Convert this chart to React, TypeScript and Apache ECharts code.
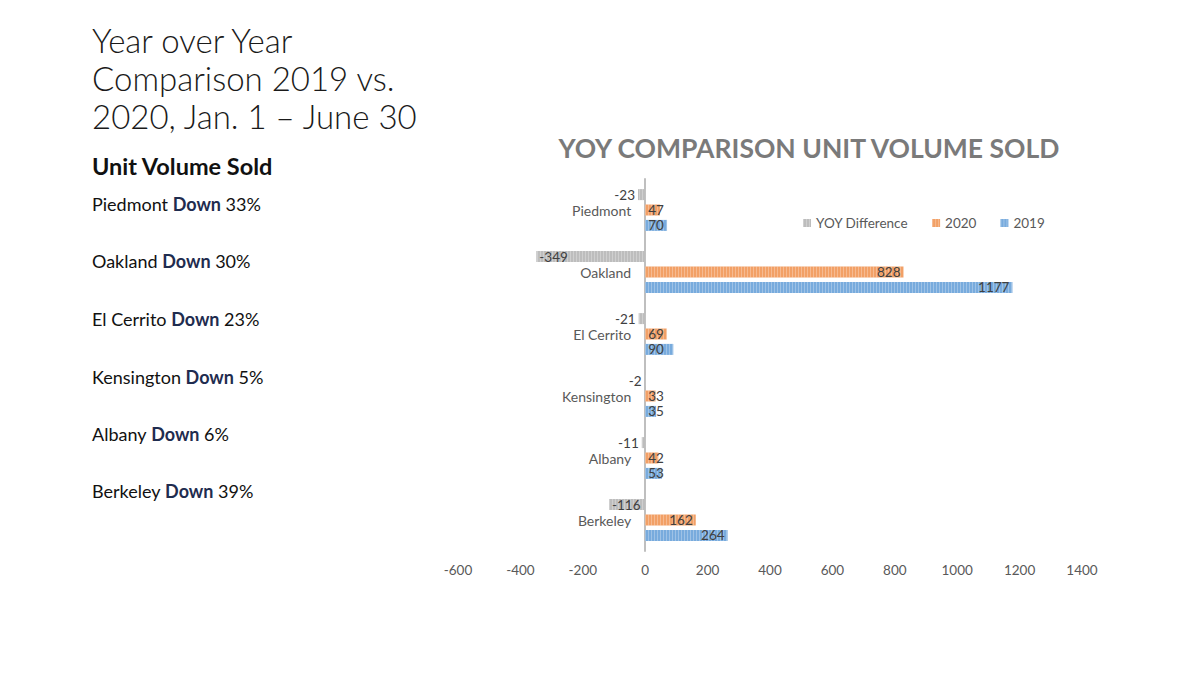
import React, { useEffect, useRef } from "react";
import * as echarts from "echarts";

const categories = ["Piedmont", "Oakland", "El Cerrito", "Kensington", "Albany", "Berkeley"];
const yoyDiff = [-23, -349, -21, -2, -11, -116];
const v2020 = [47, 828, 69, 33, 42, 162];
const v2019 = [70, 1177, 90, 35, 53, 264];
const xTicks = { min: -600, max: 1400, interval: 200 };
const sideNotes = [
  { city: "Piedmont", pct: "33%" },
  { city: "Oakland", pct: "30%" },
  { city: "El Cerrito", pct: "23%" },
  { city: "Kensington", pct: "5%" },
  { city: "Albany", pct: "6%" },
  { city: "Berkeley", pct: "39%" },
];

const FONT = "Lato, 'Open Sans', sans-serif";

function labelPos(v: number) {
  if (v >= 0) return v > 130 ? "insideRight" : "insideLeft";
  return v < -90 ? "insideLeft" : "left";
}

function mkData(vals: number[]) {
  return vals.map((v) => ({
    value: v,
    label: { position: labelPos(v), distance: 3 },
  }));
}

const stripes = {
  symbol: "rect",
  symbolSize: 1,
  color: "rgba(255,255,255,0.28)",
  dashArrayX: [1, 2],
  dashArrayY: [2, 0],
  rotation: 0,
};

export default function App() {
  const ref = useRef<HTMLDivElement>(null);
  useEffect(() => {
    document.body.style.margin = "0";
    const chart = echarts.init(ref.current!, null, { renderer: "svg" });
    const gridLeft = 458;
    const gridRight = 118;
    const plotW = 1200 - gridLeft - gridRight;
    const zeroOffset = ((0 - xTicks.min) / (xTicks.max - xTicks.min)) * plotW;
    const noteTops = [195, 252, 310, 368, 425, 482];
    const graphics: any[] = [
      {
        type: "text",
        left: 92,
        top: 21,
        style: {
          text: "Year over Year\nComparison 2019 vs.\n2020, Jan. 1 \u2013 June 30",
          font: `300 33px ${FONT}`,
          lineHeight: 38,
          fill: "#1a1a1a",
        },
      },
      {
        type: "text",
        left: 92,
        top: 154,
        style: {
          text: "Unit Volume Sold",
          font: `bold 23.5px ${FONT}`,
          fill: "#111111",
        },
      },
      ...sideNotes.map((n, i) => ({
        type: "text",
        left: 92,
        top: noteTops[i],
        style: {
          text: `{n|${n.city} }{b|Down}{n| ${n.pct}}`,
          rich: {
            n: { font: `18px ${FONT}`, fill: "#111111" },
            b: { font: `bold 18px ${FONT}`, fill: "#1f2c4f" },
          },
        },
      })),
    ];
    const labelStyle = { show: true, color: "#404040", fontSize: 13.5, fontFamily: FONT };
    chart.setOption({
      animation: false,
      backgroundColor: "#ffffff",
      aria: { enabled: true, decal: { show: true } },
      title: {
        text: "YOY COMPARISON UNIT VOLUME SOLD",
        left: 804,
        textAlign: "center",
        top: 129,
        textStyle: {
          color: "#7a7a7a",
          fontSize: 26.5,
          fontWeight: "bold",
          fontFamily: FONT,
        },
      },
      legend: {
        left: 798,
        top: 211,
        itemWidth: 8,
        itemHeight: 8,
        itemGap: 24,
        icon: "rect",
        textStyle: { color: "#595959", fontSize: 13.5, fontFamily: FONT },
        data: ["YOY Difference", "2020", "2019"],
      },
      grid: { left: gridLeft, right: gridRight, top: 179, bottom: 124, containLabel: false },
      xAxis: {
        type: "value",
        min: xTicks.min,
        max: xTicks.max,
        interval: xTicks.interval,
        splitLine: { show: false },
        axisLine: { show: false },
        axisTick: { show: false },
        axisLabel: {
          color: "#595959",
          fontSize: 13.5,
          fontFamily: FONT,
          margin: 12,
          formatter: (v: number) => String(v),
        },
      },
      yAxis: {
        type: "category",
        inverse: true,
        data: categories,
        position: "left",
        offset: -zeroOffset,
        axisLine: { show: true, onZero: false, lineStyle: { color: "#bfbfbf", width: 2 } },
        axisTick: { show: false },
        axisLabel: { color: "#595959", fontSize: 14, fontFamily: FONT, margin: 14 },
      },
      series: [
        {
          name: "YOY Difference",
          type: "bar",
          data: mkData(yoyDiff),
          barWidth: 11,
          barGap: "40%",
          itemStyle: { color: "#bdbdbd", decal: stripes },
          label: labelStyle,
        },
        {
          name: "2020",
          type: "bar",
          data: mkData(v2020),
          barWidth: 11,
          barGap: "40%",
          itemStyle: { color: "#f2a066", decal: stripes },
          label: labelStyle,
        },
        {
          name: "2019",
          type: "bar",
          data: mkData(v2019),
          barWidth: 11,
          barGap: "40%",
          itemStyle: { color: "#78abdd", decal: stripes },
          label: labelStyle,
        },
      ],
      graphic: graphics,
    });
    return () => chart.dispose();
  }, []);
  return (
    <div
      ref={ref}
      style={{ position: "absolute", left: 0, top: 0, width: 1200, height: 675 }}
    />
  );
}
